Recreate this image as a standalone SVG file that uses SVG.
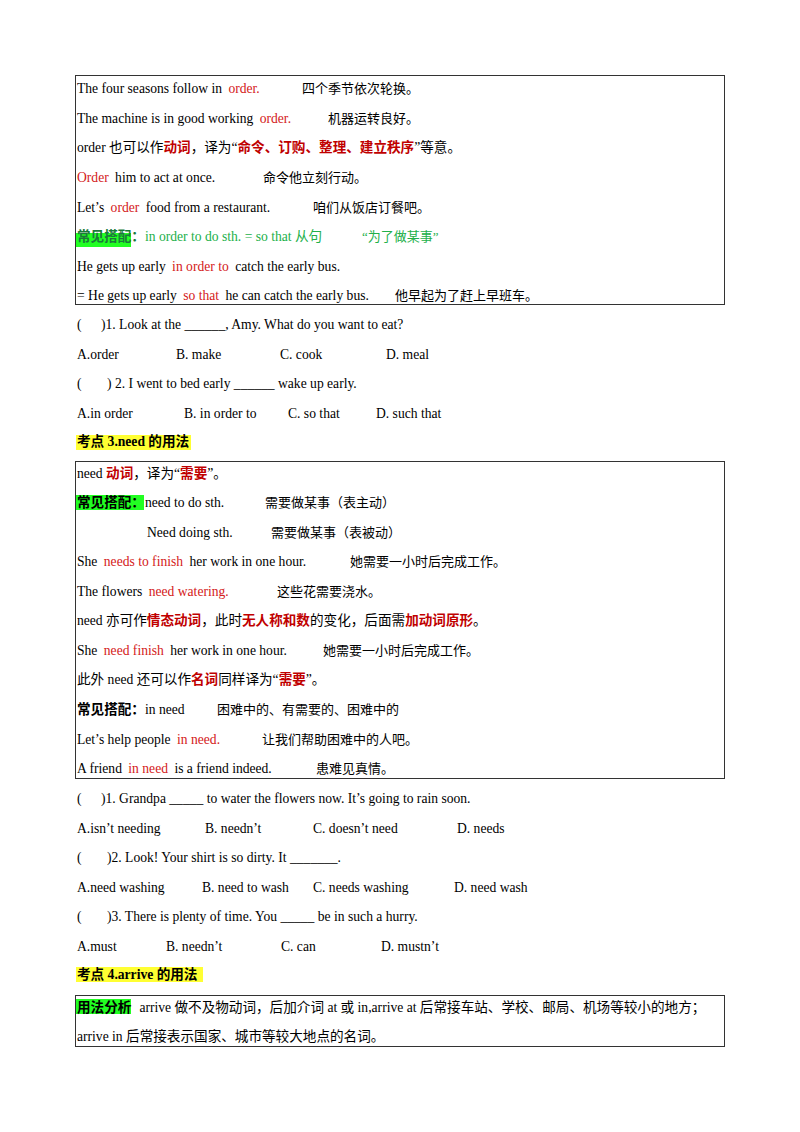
<svg xmlns="http://www.w3.org/2000/svg" width="800" height="1132" viewBox="0 0 800 1132">
<style>
text{font-family:"Liberation Serif","Noto Sans CJK SC",serif;font-size:13.6px;fill:#000}
.c{font-size:13px}
.r{fill:#d42020}.rb{fill:#c00000;font-weight:bold}.g{fill:#22b04a}.b{font-weight:bold}
.box{fill:none;stroke:#333;stroke-width:1}
</style>
<rect width="800" height="1132" fill="#fff"/>
<g id="box1">
<rect class="box" x="75.5" y="75.5" width="649" height="229"/>
<text x="77" y="93">The four seasons follow in <tspan class="r" dx="3">order.</tspan></text><text x="302" y="93" class="c">四个季节依次轮换。</text>
<text x="77" y="123">The machine is in good working <tspan class="r" dx="3">order.</tspan></text><text x="328" y="123" class="c">机器运转良好。</text>
<text x="77" y="152">order 也可以作<tspan class="rb">动词</tspan>，译为“<tspan class="rb">命令、订购、整理、建立秩序</tspan>”等意。</text>
<text x="77" y="182"><tspan class="r">Order</tspan> <tspan dx="3">him to act at once.</tspan></text><text x="263" y="182" class="c">命令他立刻行动。</text>
<text x="77" y="212">Let’s <tspan class="r" dx="3">order</tspan> <tspan dx="3">food from a restaurant.</tspan></text><text x="313" y="212" class="c">咱们从饭店订餐吧。</text>
<rect x="76" y="233" width="55" height="14" fill="#22ff22"/>
<text x="77" y="241"><tspan class="b" fill="#1a7a3a">常见搭配：</tspan><tspan class="g">in order to do sth. = so that 从句</tspan></text><text x="362" y="241" class="g c">“为了做某事”</text>
<text x="77" y="271">He gets up early <tspan class="r" dx="3">in order to</tspan> <tspan dx="3">catch the early bus.</tspan></text>
<text x="77" y="300">= He gets up early <tspan class="r" dx="3">so that</tspan> <tspan dx="3">he can catch the early bus.</tspan></text><text x="395" y="300" class="c">他早起为了赶上早班车。</text>
</g>
<g id="q1">
<text x="77" y="329">(</text><text x="101" y="329">)1. Look at the ______, Amy. What do you want to eat?</text>
<text x="77" y="359">A.order</text><text x="176" y="359">B. make</text><text x="280" y="359">C. cook</text><text x="386" y="359">D. meal</text>
<text x="77" y="388">(</text><text x="107" y="388">) 2. I went to bed early ______ wake up early.</text>
<text x="77" y="418">A.in order</text><text x="184" y="418">B. in order to</text><text x="288" y="418">C. so that</text><text x="376" y="418">D. such that</text>
<rect x="76" y="435" width="115" height="15" fill="#ffff33"/>
<text x="77" y="446" class="b">考点 3.need 的用法</text>
</g>
<g id="box2">
<rect class="box" x="75.5" y="461.5" width="649" height="317"/>
<text x="77" y="478">need <tspan class="rb">动词</tspan>，译为“<tspan class="rb">需要</tspan>”。</text>
<rect x="76" y="495" width="68" height="15" fill="#22ff22"/>
<text x="77" y="507"><tspan class="b">常见搭配：</tspan>need to do sth.</text><text x="265" y="507" class="c">需要做某事（表主动）</text>
<text x="147" y="537">Need doing sth.</text><text x="271" y="537" class="c">需要做某事（表被动）</text>
<text x="77" y="566">She <tspan class="r" dx="3">needs to finish</tspan> <tspan dx="3">her work in one hour.</tspan></text><text x="350" y="566" class="c">她需要一小时后完成工作。</text>
<text x="77" y="596">The flowers <tspan class="r" dx="3">need watering.</tspan></text><text x="277" y="596" class="c">这些花需要浇水。</text>
<text x="77" y="625">need 亦可作<tspan class="rb">情态动词</tspan>，此时<tspan class="rb">无人称和数</tspan>的变化，后面需<tspan class="rb">加动词原形</tspan>。</text>
<text x="77" y="655">She <tspan class="r" dx="3">need finish</tspan> <tspan dx="3">her work in one hour.</tspan></text><text x="323" y="655" class="c">她需要一小时后完成工作。</text>
<text x="77" y="684">此外 need 还可以作<tspan class="rb">名词</tspan>同样译为“<tspan class="rb">需要</tspan>”。</text>
<text x="77" y="714"><tspan class="b">常见搭配：</tspan>in need</text><text x="217" y="714" class="c">困难中的、有需要的、困难中的</text>
<text x="77" y="744">Let’s help people <tspan class="r" dx="3">in need.</tspan></text><text x="262" y="744" class="c">让我们帮助困难中的人吧。</text>
<text x="77" y="773">A friend <tspan class="r" dx="3">in need</tspan> <tspan dx="3">is a friend indeed.</tspan></text><text x="316" y="773" class="c">患难见真情。</text>
</g>
<g id="q2">
<text x="77" y="803">(</text><text x="101" y="803">)1. Grandpa _____ to water the flowers now. It’s going to rain soon.</text>
<text x="77" y="833">A.isn’t needing</text><text x="205" y="833">B. needn’t</text><text x="313" y="833">C. doesn’t need</text><text x="457" y="833">D. needs</text>
<text x="77" y="862">(</text><text x="107" y="862">)2. Look! Your shirt is so dirty. It _______.</text>
<text x="77" y="892">A.need washing</text><text x="202" y="892">B. need to wash</text><text x="313" y="892">C. needs washing</text><text x="454" y="892">D. need wash</text>
<text x="77" y="921">(</text><text x="107" y="921">)3. There is plenty of time. You _____ be in such a hurry.</text>
<text x="77" y="951">A.must</text><text x="166" y="951">B. needn’t</text><text x="281" y="951">C. can</text><text x="381" y="951">D. mustn’t</text>
<rect x="76" y="967" width="127" height="15" fill="#ffff33"/>
<text x="77" y="979" class="b">考点 4.arrive 的用法</text>
</g>
<g id="box3">
<rect class="box" x="75.5" y="995.5" width="649" height="51"/>
<rect x="76" y="999" width="55" height="15" fill="#22ff22"/>
<text x="77" y="1012"><tspan class="b">用法分析</tspan><tspan dx="8">arrive 做不及物动词，后加介词 at 或 in,arrive at 后常接车站、学校、邮局、机场等较小的地方；</tspan></text>
<text x="77" y="1041">arrive in 后常接表示国家、城市等较大地点的名词。</text>
</g>
</svg>
